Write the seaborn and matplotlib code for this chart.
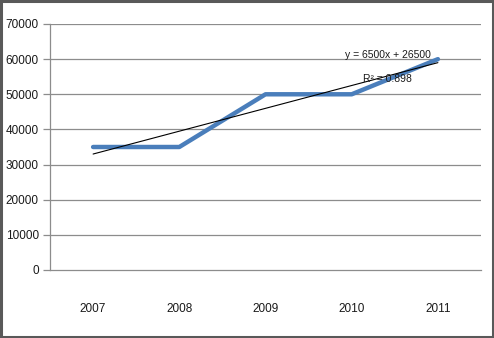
import matplotlib
matplotlib.use("Agg")
import matplotlib.pyplot as plt
import seaborn as sns
import pandas as pd
import numpy as np

years = ["2007", "2008", "2009", "2010", "2011"]
values = [35000, 35000, 50000, 50000, 60000]
yticks = [0, 10000, 20000, 30000, 40000, 50000, 60000, 70000]
eq_text = "y = 6500x + 26500"
r2_text = "R² = 0.898"

sns.set_theme(style="white")
plt.rcParams["font.family"] = ["Liberation Sans", "DejaVu Sans"]

df = pd.DataFrame({"pos": np.arange(len(years)), "value": values})

fig = plt.figure(figsize=(4.94, 3.38), dpi=100)
ax = fig.add_axes([50/494, 68/338, 431/494, 246/338])

for y in yticks[1:]:
    ax.axhline(y, color="#8c8c8c", lw=0.9, zorder=0)

sns.lineplot(data=df, x="pos", y="value", ax=ax, color="#4a7ebb", lw=3.2, zorder=3)
sns.regplot(data=df, x="pos", y="value", ax=ax, scatter=False, ci=None, truncate=True,
            line_kws=dict(color="black", lw=0.8, zorder=4))

ax.set_xlim(-0.5, 4.5)
ax.set_ylim(0, 70000)
ax.set_yticks(yticks)
ax.set_yticklabels([str(v) for v in yticks])
ax.set_xticks(np.arange(len(years)))
ax.set_xticklabels(years)
ax.set_xticks(np.arange(-0.5, 5, 1), minor=True)
ax.tick_params(axis="x", which="major", length=0, pad=24, labelsize=8.5, labelcolor="#1a1a1a")
ax.tick_params(axis="x", which="minor", length=5, color="#8c8c8c", direction="out", width=0.9)
ax.tick_params(axis="y", length=5, color="#8c8c8c", direction="out", width=0.9, labelsize=8.5,
               labelcolor="#1a1a1a", left=True, pad=3)
ax.set_xlabel("")
ax.set_ylabel("")
for s in ["top", "right"]:
    ax.spines[s].set_visible(False)
for s in ["left", "bottom"]:
    ax.spines[s].set_color("#8c8c8c")
    ax.spines[s].set_linewidth(0.9)

ax.text(3.42, 61200, eq_text, fontsize=7.5, ha="center", va="center", color="#1a1a1a", zorder=5)
ax.text(3.42, 54300, r2_text, fontsize=7.5, ha="center", va="center", color="#1a1a1a", zorder=5)

fig.patches.append(plt.Rectangle((0.002, 0.003), 0.995, 0.994, transform=fig.transFigure,
                                 fill=False, edgecolor="#595959", lw=2.2))

fig.savefig("out.png", dpi=100)
